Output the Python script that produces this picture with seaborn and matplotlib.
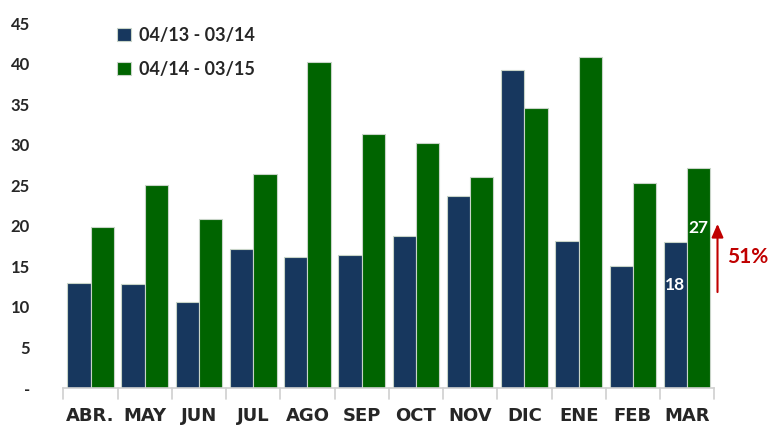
import numpy as np
import pandas as pd
import seaborn as sns
import matplotlib.pyplot as plt

# datos
meses = ["ABR.", "MAY", "JUN", "JUL", "AGO", "SEP", "OCT", "NOV", "DIC", "ENE", "FEB", "MAR"]
periodo_1 = [13.0, 12.8, 10.6, 17.1, 16.2, 16.4, 18.7, 23.7, 39.3, 18.1, 15.1, 18.0]
periodo_2 = [19.9, 25.0, 20.8, 26.4, 40.2, 31.4, 30.2, 26.1, 34.5, 40.8, 25.3, 27.2]
series = ["04/13 - 03/14", "04/14 - 03/15"]
y_ticks = [0, 5, 10, 15, 20, 25, 30, 35, 40, 45]
y_labels = ["-", "5", "10", "15", "20", "25", "30", "35", "40", "45"]
dato_ini, dato_fin, variacion = "18", "27", "51%"

df = pd.DataFrame({
    "mes": meses * 2,
    "valor": periodo_1 + periodo_2,
    "periodo": [series[0]] * len(meses) + [series[1]] * len(meses),
})

sns.set_style("white")
plt.rcParams["font.family"] = ["Lato", "DejaVu Sans"]

fig = plt.figure(figsize=(7.73, 4.25), dpi=100)
ax = fig.add_axes([0.082, 0.087, 0.842, 0.858])

sns.barplot(data=df, x="mes", y="valor", hue="periodo", order=meses, hue_order=series,
            palette=["#17375E", "#006400"], saturation=1, width=0.86,
            edgecolor="#c8d4c8", linewidth=0.8, ax=ax)

ax.set_ylim(0, 45)
ax.set_xlim(-0.5, len(meses) - 0.5)
ax.set_yticks(y_ticks)
ax.set_yticklabels(y_labels, fontsize=12, fontweight="bold")
ax.set_xticks(range(len(meses)))
ax.set_xticklabels(meses, fontsize=13, fontweight="bold", family="Liberation Sans Narrow")
ax.tick_params(axis="x", length=0, pad=14)
ax.tick_params(axis="y", length=0, pad=24)
for lab in ax.get_yticklabels():
    lab.set_horizontalalignment("right")
ax.set_xlabel("")
ax.set_ylabel("")

for s in ["top", "right", "left"]:
    ax.spines[s].set_visible(False)
ax.spines["bottom"].set_color("#d0d0d0")
ax.spines["bottom"].set_linewidth(1.2)

# separadores entre meses
for i in range(len(meses) + 1):
    ax.plot([i - 0.5, i - 0.5], [0, -1.3], color="#d0d0d0", lw=1.2, clip_on=False)

leg = ax.legend(loc="upper left", bbox_to_anchor=(0.058, 1.035), frameon=False,
                prop={"weight": "bold", "size": 13}, handlelength=0.75, handleheight=0.75,
                handletextpad=0.45, labelspacing=0.95)

# anotaciones marzo
i = len(meses) - 1
ax.text(i - 0.22, periodo_1[i] - 5.3, dato_ini, color="white", fontsize=12.5,
        fontweight="bold", ha="center", va="center")
ax.text(i + 0.2, periodo_2[i] - 7.5, dato_fin, color="white", fontsize=12.5,
        fontweight="bold", ha="center", va="center")
ax.annotate("", xy=(i + 0.56, periodo_2[i] - 6.6), xytext=(i + 0.56, periodo_1[i] - 6.5),
            arrowprops=dict(arrowstyle="-|>,head_width=0.35,head_length=0.8",
                            color="#C00000", lw=1.5), annotation_clip=False)
ax.text(i + 1.12, periodo_1[i] - 1.8, variacion, color="#C00000", fontsize=15,
        fontweight="bold", ha="center", va="center", clip_on=False)

plt.savefig("out.png", dpi=100)
